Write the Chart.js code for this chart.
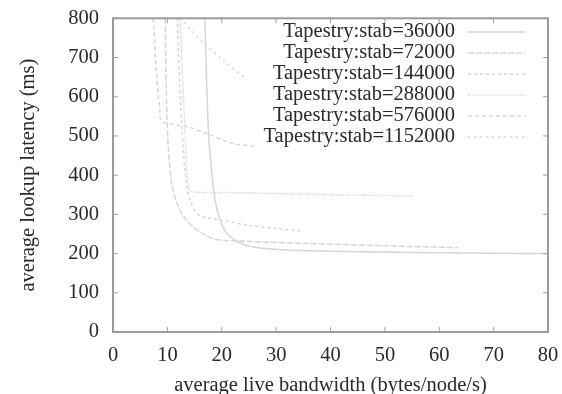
<!DOCTYPE html>
<html>
  <head>
    <script src="https://cdn.jsdelivr.net/npm/chart.js"></script>
    <style>
      html, body { margin: 0; padding: 0; background: #fff; }
      #wrap { width: 562px; height: 394px; }
    </style>
  </head>
  <body>
    <div id="wrap">
      <canvas id="Chart"></canvas>
    </div>
    <script>
      const seriesLabels = [
        "Tapestry:stab=36000",
        "Tapestry:stab=72000",
        "Tapestry:stab=144000",
        "Tapestry:stab=288000",
        "Tapestry:stab=576000",
        "Tapestry:stab=1152000",
      ];

      // bandwidth (bytes/node/s) and latency (ms)
      const bw36000 = [16.9, 17.2, 17.6, 18.2, 18.8, 19.6, 20.6, 22, 24.3, 27, 32, 40, 50, 60, 70, 80];
      const lat36000 = [800, 650, 500, 400, 334, 290, 258, 238, 222, 214, 209, 206, 204, 202, 201, 200];

      const bw72000 = [9.6, 9.8, 10.1, 10.8, 12, 13.2, 15, 17, 19, 25, 35, 45, 55, 63.5];
      const lat72000 = [800, 620, 486, 377, 320, 291, 265, 247, 236, 231, 226, 222, 218, 215];

      const bw144000 = [11.8, 12.3, 12.9, 13.5, 14.2, 15.1, 16, 20, 25, 30, 34.4];
      const lat144000 = [800, 620, 470, 380, 335, 309, 296, 285, 272, 264, 258];

      const bw288000 = [12.3, 12.9, 13.4, 13.8, 14.5, 20, 30, 40, 50, 55];
      const lat288000 = [800, 620, 460, 375, 358, 356, 353, 350, 348, 347];

      const bw576000 = [7.4, 8, 8.6, 9, 13.5, 17.8, 22, 26.5];
      const lat576000 = [800, 660, 570, 537, 524, 503, 481, 473];

      const bw1152000 = [12.4, 16.5, 20.6, 24.6];
      const lat1152000 = [800, 739, 689, 643];

      const xTicks = [0, 10, 20, 30, 40, 50, 60, 70, 80];
      const yTicks = [0, 100, 200, 300, 400, 500, 600, 700, 800];

      const dashes = [[], [6, 2], [3, 3], [1, 1], [4, 3], [2, 4]];
      const lineColor = "#d6d6d6";
      const serif = "'Liberation Serif', 'DejaVu Serif', serif";
      const fontSize = 20.5;

      function points(xs, ys) {
        return xs.map((v, i) => ({ x: v, y: ys[i] }));
      }

      const allData = [
        points(bw36000, lat36000),
        points(bw72000, lat72000),
        points(bw144000, lat144000),
        points(bw288000, lat288000),
        points(bw576000, lat576000),
        points(bw1152000, lat1152000),
      ];

      const datasets = allData.map((d, i) => ({
        label: seriesLabels[i],
        data: d,
        showLine: true,
        borderColor: lineColor,
        borderWidth: 1.5,
        borderDash: dashes[i],
        pointRadius: 0,
        tension: 0.3,
        fill: false,
      }));

      // gnuplot-ish frame, inward ticks on all sides, right-aligned key
      const framePlugin = {
        id: "frame",
        afterDatasetsDraw(chart) {
          const { ctx, chartArea: a, scales } = chart;
          const x = scales.x, y = scales.y;
          ctx.save();
          ctx.strokeStyle = "#a0a0a0";
          ctx.lineWidth = 1;
          ctx.setLineDash([]);
          ctx.beginPath();
          xTicks.forEach((v) => {
            const px = x.getPixelForValue(v);
            ctx.moveTo(px, a.bottom); ctx.lineTo(px, a.bottom - 5);
            ctx.moveTo(px, a.top); ctx.lineTo(px, a.top + 5);
          });
          yTicks.forEach((v) => {
            const py = y.getPixelForValue(v);
            ctx.moveTo(a.left, py); ctx.lineTo(a.left + 5, py);
            ctx.moveTo(a.right, py); ctx.lineTo(a.right - 5, py);
          });
          ctx.stroke();
          ctx.lineWidth = 2;
          ctx.strokeStyle = "#9a9a9a";
          ctx.strokeRect(a.left, a.top, a.width, a.height);

          // key
          ctx.font = fontSize + "px " + serif;
          ctx.textAlign = "right";
          ctx.textBaseline = "middle";
          chart.data.datasets.forEach((ds, i) => {
            const ry = 32 + i * 21;
            ctx.fillStyle = "#2a2a2a";
            ctx.fillText(ds.label, 455, ry);
            ctx.strokeStyle = lineColor;
            ctx.lineWidth = 1.5;
            ctx.setLineDash(ds.borderDash);
            ctx.beginPath();
            ctx.moveTo(468, ry);
            ctx.lineTo(525, ry);
            ctx.stroke();
          });
          ctx.restore();
        },
      };

      new Chart(document.getElementById("Chart"), {
        type: "scatter",
        data: { datasets: datasets },
        plugins: [framePlugin],
        options: {
          responsive: true,
          maintainAspectRatio: false,
          animation: false,
          layout: { padding: { top: 16, right: 14, left: 0, bottom: 0 } },
          plugins: { legend: { display: false }, tooltip: { enabled: false } },
          scales: {
            x: {
              type: "linear",
              min: 0,
              max: 80,
              afterFit: (s) => { s.height = 62; },
              afterBuildTicks: (s) => { s.ticks = xTicks.map((v) => ({ value: v })); },
              grid: { display: false },
              border: { display: false },
              ticks: { color: "#2a2a2a", padding: 3, font: { family: serif, size: fontSize } },
              title: {
                display: true,
                text: "average live bandwidth (bytes/node/s)",
                color: "#2a2a2a",
                font: { family: serif, size: fontSize },
                padding: { top: 0, bottom: -4 },
              },
            },
            y: {
              type: "linear",
              min: 0,
              max: 800,
              afterFit: (s) => { s.width = 113; },
              afterBuildTicks: (s) => { s.ticks = yTicks.map((v) => ({ value: v })); },
              grid: { display: false },
              border: { display: false },
              ticks: { color: "#2a2a2a", padding: 6, font: { family: serif, size: fontSize } },
              title: {
                display: true,
                text: "average lookup latency (ms)",
                color: "#2a2a2a",
                font: { family: serif, size: fontSize },
                padding: { top: 16, bottom: 0 },
              },
            },
          },
        },
      });
    </script>
  </body>
</html>
